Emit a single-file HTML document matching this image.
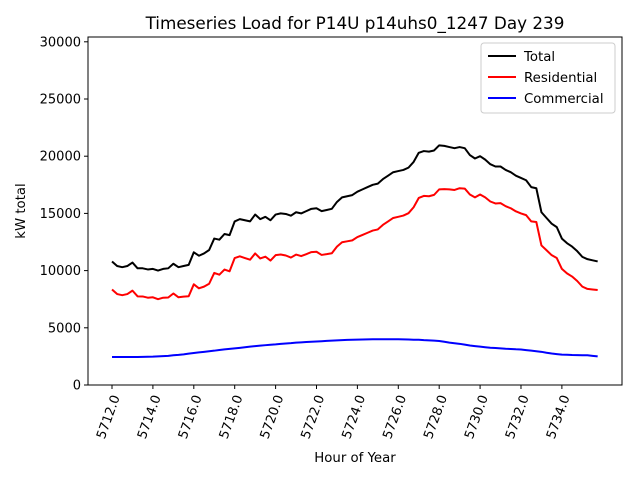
<!DOCTYPE html>
<html><head><meta charset="utf-8">
<style>
body{margin:0;background:#fff;}
svg{font-family:"DejaVu Sans","Liberation Sans",sans-serif;}
</style></head>
<body>
<svg id="chart" width="640" height="480" viewBox="0 0 640 480">
<rect x="0" y="0" width="640" height="480" fill="#fff"/>
<text x="355" y="29" font-size="16.8" text-anchor="middle">Timeseries Load for P14U p14uhs0_1247  Day 239</text>
<g id="plot"></g>
<rect x="88" y="37" width="534" height="348" fill="none" stroke="#000" stroke-width="1"/>
<text x="355" y="462" font-size="13.3" text-anchor="middle">Hour of Year</text>
<text transform="translate(25,211) rotate(-90)" font-size="13.3" text-anchor="middle">kW total</text>
<g>
<rect x="481" y="43" width="134" height="70" fill="#fff" stroke="#ccc" rx="3"/>
<line x1="488" y1="56" x2="516" y2="56" stroke="#000" stroke-width="2"/>
<text x="524" y="61" font-size="13.3">Total</text>
<line x1="488" y1="77" x2="516" y2="77" stroke="#f00" stroke-width="2"/>
<text x="524" y="82" font-size="13.3">Residential</text>
<line x1="488" y1="98" x2="516" y2="98" stroke="#00f" stroke-width="2"/>
<text x="524" y="103" font-size="13.3">Commercial</text>
</g>
</svg>
<script>
const startHour = 5712;
const stepHours = 0.25;
const xTicks = [5712,5714,5716,5718,5720,5722,5724,5726,5728,5730,5732,5734];
const xTickLabels = ["5712.0","5714.0","5716.0","5718.0","5720.0","5722.0","5724.0","5726.0","5728.0","5730.0","5732.0","5734.0"];
const yTicks = [0,5000,10000,15000,20000,25000,30000];
const yTickLabels = ["0","5000","10000","15000","20000","25000","30000"];
const totalValues = [10800,10400,10300,10400,10700,10200,10200,10100,10150,10000,10150,10200,10600,10300,10400,10500,11600,11300,11500,11800,12800,12700,13200,13100,14300,14500,14400,14300,14900,14500,14700,14400,14900,15000,14950,14800,15100,15000,15200,15400,15450,15200,15300,15400,16000,16400,16500,16600,16900,17100,17300,17500,17600,18000,18300,18600,18700,18800,19000,19500,20300,20450,20400,20500,20950,20900,20800,20700,20800,20700,20100,19800,20000,19700,19300,19100,19100,18800,18600,18300,18100,17900,17300,17200,15100,14600,14100,13800,12800,12400,12100,11700,11200,11000,10900,10800];
const residentialValues = [8350,7950,7850,7950,8250,7750,7740,7630,7670,7500,7630,7650,8000,7670,7720,7760,8800,8450,8600,8850,9800,9640,10090,9940,11100,11250,11100,10950,11500,11060,11220,10880,11350,11410,11320,11140,11400,11270,11440,11620,11650,11370,11440,11520,12100,12480,12560,12640,12930,13120,13310,13500,13600,14000,14300,14600,14700,14810,15020,15540,16350,16530,16500,16620,17100,17120,17100,17050,17200,17170,16650,16400,16650,16400,16040,15870,15900,15630,15450,15180,15000,14850,14300,14250,12200,11780,11350,11100,10150,9760,9480,9090,8600,8400,8350,8300];
const commercialValues = [2450,2450,2450,2450,2450,2450,2460,2470,2480,2500,2520,2550,2600,2630,2680,2740,2800,2850,2900,2950,3000,3060,3110,3160,3200,3250,3300,3350,3400,3440,3480,3520,3550,3590,3630,3660,3700,3730,3760,3780,3800,3830,3860,3880,3900,3920,3940,3960,3970,3980,3990,4000,4000,4000,4000,4000,4000,3990,3980,3960,3950,3920,3900,3880,3850,3780,3700,3650,3600,3530,3450,3400,3350,3300,3260,3230,3200,3170,3150,3120,3100,3050,3000,2950,2900,2820,2750,2700,2650,2640,2620,2610,2600,2600,2550,2500];

const X0=88,X1=622,Y0=385,Y1=37;
const xMin=5710.826, xMax=5736.94, yMin=0, yMax=30420;
function xs(v){return X0+(v-xMin)/(xMax-xMin)*(X1-X0);}
function ys(v){return Y0-(v-yMin)/(yMax-yMin)*(Y0-Y1);}
const NS="http://www.w3.org/2000/svg";
const g=document.getElementById('plot');
function mk(t,a){const e=document.createElementNS(NS,t);for(const k in a)e.setAttribute(k,a[k]);return e;}

xTicks.forEach((t,i)=>{
  const x=xs(t);
  const tk=mk('line',{x1:x,y1:Y0,x2:x,y2:Y0+4,stroke:'#000'});
  
  
  g.appendChild(tk);
  const lb=mk('text',{'font-size':13,'text-anchor':'end',transform:`translate(${x+8},${Y0+12}) rotate(-70)`});
  
  
  lb.textContent=xTickLabels[i];
  g.appendChild(lb);
});
yTicks.forEach((t,i)=>{
  const y=ys(t);
  const tk=mk('line',{x1:X0-4,y1:y,x2:X0,y2:y,stroke:'#000'});
  
  
  g.appendChild(tk);
  const lb=mk('text',{x:X0-7,y:y+4.5,'font-size':13,'text-anchor':'end'});
  
  
  lb.textContent=yTickLabels[i];
  g.appendChild(lb);
});
function series(vals,color,name){
  const pts=vals.map((v,i)=>xs(startHour+i*stepHours).toFixed(2)+','+ys(v).toFixed(2)).join(' ');
  const p=mk('polyline',{points:pts,fill:'none',stroke:color,'stroke-width':2,'stroke-linejoin':'round'});
  
  
  g.appendChild(p);
}
series(totalValues,'#000','total-line');
series(residentialValues,'#f00','residential-line');
series(commercialValues,'#00f','commercial-line');
</script>
</body></html>
